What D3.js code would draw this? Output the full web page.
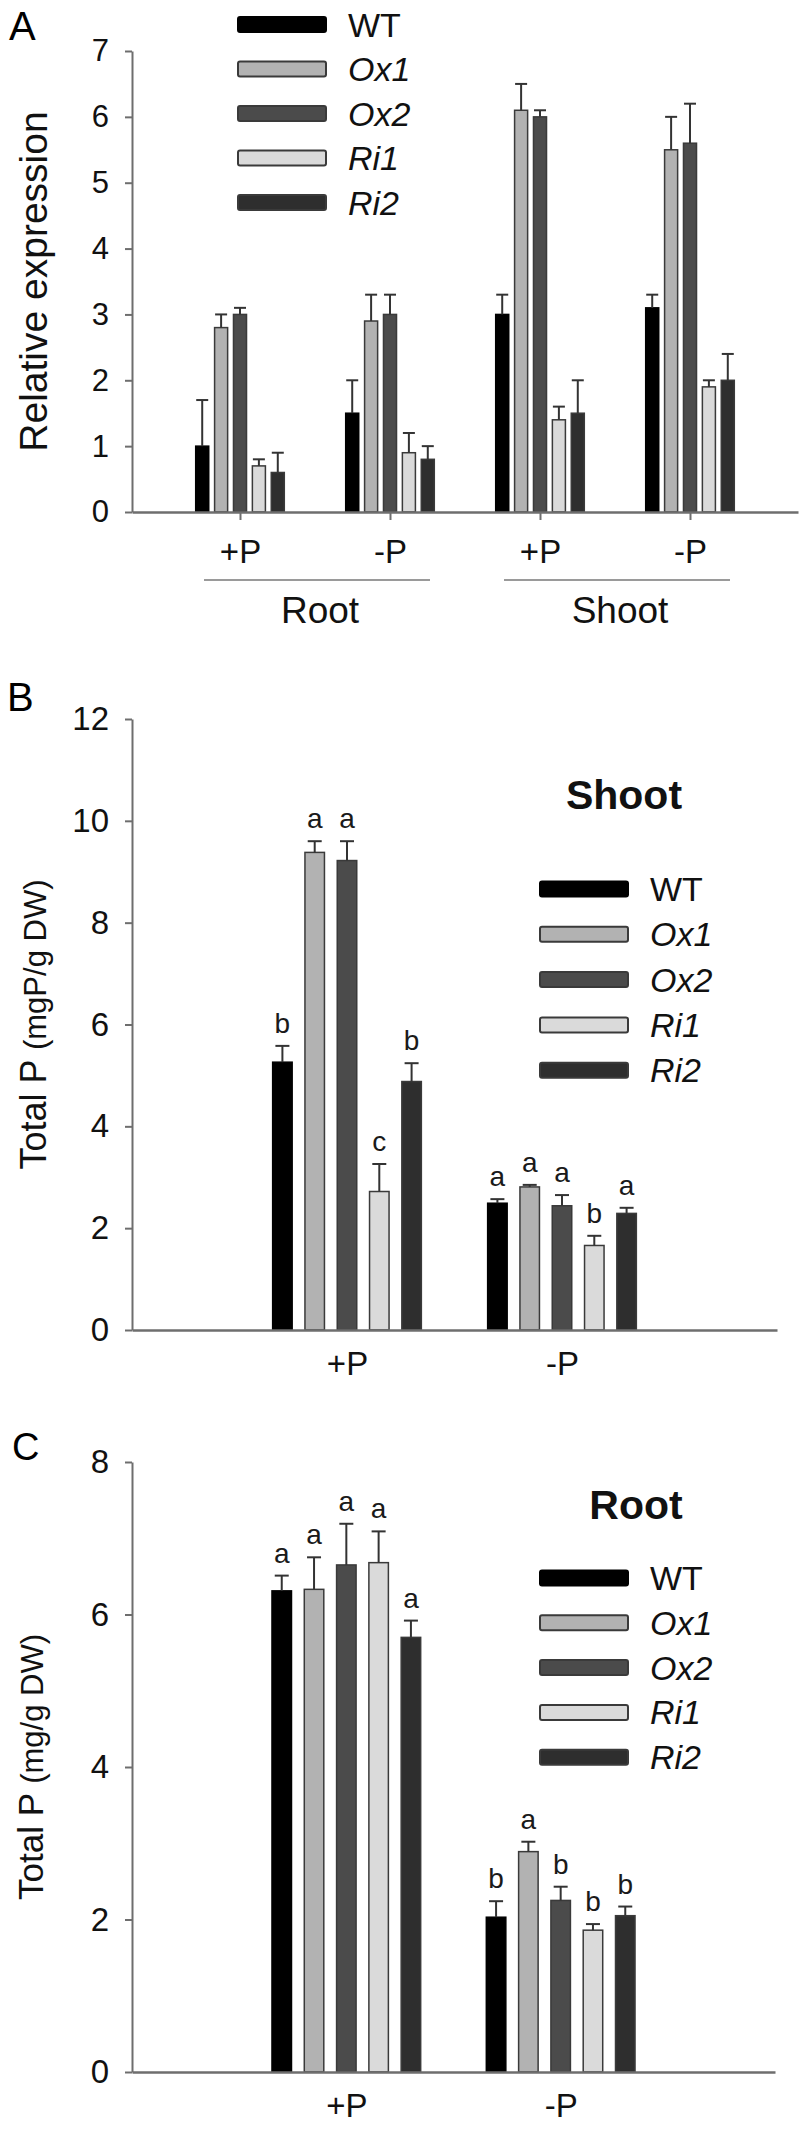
<!DOCTYPE html>
<html>
<head>
<meta charset="utf-8">
<script src="https://cdn.jsdelivr.net/npm/d3@7"></script>
<style>
  html, body { margin: 0; padding: 0; background: #fff; }
  svg { display: block; font-family: "Liberation Sans", Arial, sans-serif; }
</style>
</head>
<body>
<svg id="chart" width="800" height="2132"></svg>
<script>
// ---------- DATA ----------
const series = ["WT", "Ox1", "Ox2", "Ri1", "Ri2"];
const seriesItalic = [false, true, true, true, true];
const seriesFill = ["#000000", "#b2b2b2", "#4b4b4b", "#dadada", "#2e2e2e"];

// Panel A: relative expression
const groupKeysA = ["Root+P", "Root-P", "Shoot+P", "Shoot-P"];
const groupLabelsA = ["+P", "-P", "+P", "-P"];
const tissuesA = ["Root", "Shoot"];
const ticksA = [0, 1, 2, 3, 4, 5, 6, 7];
const aWT  = [1.0, 1.5, 3.0, 3.1];
const aOx1 = [2.8, 2.9, 6.1, 5.5];
const aOx2 = [3.0, 3.0, 6.0, 5.6];
const aRi1 = [0.7, 0.9, 1.4, 1.9];
const aRi2 = [0.6, 0.8, 1.5, 2.0];
const aWTerr  = [0.7, 0.5, 0.3, 0.2];
const aOx1err = [0.2, 0.4, 0.4, 0.5];
const aOx2err = [0.1, 0.3, 0.1, 0.6];
const aRi1err = [0.1, 0.3, 0.2, 0.1];
const aRi2err = [0.3, 0.2, 0.5, 0.4];

// Panel B: total P, shoot
const groupsBC = ["+P", "-P"];
const ticksB = [0, 2, 4, 6, 8, 10, 12];
const bWT  = [5.26, 2.49];
const bOx1 = [9.38, 2.81];
const bOx2 = [9.22, 2.44];
const bRi1 = [2.72, 1.66];
const bRi2 = [4.88, 2.29];
const bWTerr  = [0.32, 0.08];
const bOx1err = [0.22, 0.04];
const bOx2err = [0.38, 0.21];
const bRi1err = [0.54, 0.19];
const bRi2err = [0.36, 0.11];
const bWTsig  = ["b", "a"];
const bOx1sig = ["a", "a"];
const bOx2sig = ["a", "a"];
const bRi1sig = ["c", "b"];
const bRi2sig = ["b", "a"];

// Panel C: total P, root
const ticksC = [0, 2, 4, 6, 8];
const cWT  = [6.31, 2.03];
const cOx1 = [6.33, 2.89];
const cOx2 = [6.65, 2.25];
const cRi1 = [6.68, 1.86];
const cRi2 = [5.70, 2.05];
const cWTerr  = [0.20, 0.21];
const cOx1err = [0.42, 0.13];
const cOx2err = [0.54, 0.18];
const cRi1err = [0.41, 0.08];
const cRi2err = [0.22, 0.12];
const cWTsig  = ["a", "b"];
const cOx1sig = ["a", "a"];
const cOx2sig = ["a", "b"];
const cRi1sig = ["a", "b"];
const cRi2sig = ["a", "b"];

// ---------- DRAWING ----------
const svg = d3.select("#chart");
const AXIS = "#6e6e6e";

function buildRows(groupKeys, vals, errs, sigs) {
  const rows = [];
  groupKeys.forEach((g, gi) => {
    series.forEach((s, si) => {
      rows.push({ g, s, si, v: vals[si][gi], e: errs[si][gi], sig: sigs ? sigs[si][gi] : null });
    });
  });
  return rows;
}

function drawPanel(o) {
  const g = svg.append("g");
  const y = d3.scaleLinear().domain(o.yDomain).range([o.bottom, o.top]);
  const x0 = d3.scalePoint().domain(o.groupKeys).range([o.left, o.right]).padding(o.groupPad);
  const x1 = d3.scaleBand().domain(series).range([-o.inner / 2, o.inner / 2]).paddingInner(o.barPad).paddingOuter(0);

  // y axis
  const ya = g.append("g").attr("transform", `translate(${o.left},0)`)
    .call(d3.axisLeft(y).tickValues(o.ticks).tickSize(7).tickSizeOuter(0).tickPadding(16).tickFormat(d3.format("d")));
  ya.select(".domain").attr("stroke", AXIS).attr("stroke-width", 2);
  ya.selectAll(".tick line").attr("stroke", AXIS).attr("stroke-width", 2);
  ya.selectAll(".tick text").attr("font-size", o.tickFont).attr("fill", "#111")
    .attr("font-family", "'Liberation Sans', Arial, sans-serif");

  // bars
  const rows = o.rows;
  g.selectAll("rect.bar").data(rows).enter().append("rect")
    .attr("x", d => x0(d.g) + x1(d.s))
    .attr("y", d => y(d.v))
    .attr("width", x1.bandwidth())
    .attr("height", d => y(0) - y(d.v))
    .attr("fill", d => seriesFill[d.si])
    .attr("stroke", d => d.si === 0 ? "#000" : "#3a3a3a")
    .attr("stroke-width", 1.5);

  // error bars
  const cx = d => x0(d.g) + x1(d.s) + x1.bandwidth() / 2;
  g.selectAll("line.err").data(rows).enter().append("line")
    .attr("x1", cx).attr("x2", cx)
    .attr("y1", d => y(d.v)).attr("y2", d => y(d.v + d.e))
    .attr("stroke", "#333").attr("stroke-width", 2);
  g.selectAll("line.cap").data(rows).enter().append("line")
    .attr("x1", d => cx(d) - o.cap / 2).attr("x2", d => cx(d) + o.cap / 2)
    .attr("y1", d => y(d.v + d.e)).attr("y2", d => y(d.v + d.e))
    .attr("stroke", "#333").attr("stroke-width", 2);

  // significance letters
  if (o.sig) {
    g.selectAll("text.sig").data(rows).enter().append("text")
      .attr("x", cx).attr("y", d => y(d.v + d.e) - 13)
      .attr("text-anchor", "middle").attr("font-size", 28).attr("fill", "#1a1a1a")
      .text(d => d.sig);
  }

  // x axis
  const xa = g.append("g").attr("transform", `translate(0,${o.bottom})`)
    .call(d3.axisBottom(x0).tickSize(o.xTick).tickSizeOuter(0).tickPadding(o.xPad)
      .tickFormat((d, i) => o.groupLabels[i]));
  xa.select(".domain").attr("stroke", AXIS).attr("stroke-width", 2.5);
  xa.selectAll(".tick line").attr("stroke", AXIS).attr("stroke-width", 2);
  xa.selectAll(".tick text").attr("font-size", 33).attr("fill", "#111")
    .attr("font-family", "'Liberation Sans', Arial, sans-serif");

  // y title
  const t = g.append("text")
    .attr("transform", `translate(${o.titleX},${(o.top + o.bottom) / 2}) rotate(-90)`)
    .attr("text-anchor", "middle").attr("fill", "#111");
  o.title.forEach(p => t.append("tspan").attr("font-size", p[1]).text(p[0]));

  // panel letter
  g.append("text").attr("x", o.letterX).attr("y", o.letterY)
    .attr("font-size", o.letterSize).attr("fill", "#000").text(o.letter);

  // legend
  const lg = g.append("g");
  series.forEach((s, i) => {
    const cy = o.legY + i * o.legStep;
    lg.append("rect").attr("x", o.legX).attr("y", cy - 7.5).attr("width", 88).attr("height", 15)
      .attr("rx", 2).attr("fill", seriesFill[i]).attr("stroke", i === 0 ? "#000" : "#3a3a3a").attr("stroke-width", 2);
    lg.append("text").attr("x", o.legX + 110).attr("y", cy + 12)
      .attr("font-size", 34).attr("font-style", seriesItalic[i] ? "italic" : "normal")
      .attr("fill", "#111").text(s);
  });

  // tissue title
  if (o.heading) {
    g.append("text").attr("x", o.headX).attr("y", o.headY).attr("text-anchor", "middle")
      .attr("font-size", 41).attr("font-weight", "bold").attr("fill", "#111").text(o.heading);
  }
  return { x0, y, g };
}

// Panel A
const pA = drawPanel({
  groupKeys: groupKeysA, groupLabels: groupLabelsA, groupPad: 0.72,
  left: 132, right: 798, top: 51, bottom: 512, yDomain: [0, 7], ticks: ticksA, tickFont: 31,
  inner: 88.6, barPad: 0.31, cap: 12, xTick: 8, xPad: 20,
  rows: buildRows(groupKeysA, [aWT, aOx1, aOx2, aRi1, aRi2], [aWTerr, aOx1err, aOx2err, aRi1err, aRi2err], null),
  sig: false,
  title: [["Relative expression", 39]], titleX: 47,
  letter: "A", letterX: 9, letterY: 40, letterSize: 40,
  legX: 238, legY: 24.5, legStep: 44.5
});
// tissue underlines + labels for A
[[0, 1], [2, 3]].forEach((pair, i) => {
  const xa = pA.x0(groupKeysA[pair[0]]) - 36, xb = pA.x0(groupKeysA[pair[1]]) + 40;
  pA.g.append("line").attr("x1", xa).attr("x2", xb).attr("y1", 580).attr("y2", 580)
    .attr("stroke", "#9a9a9a").attr("stroke-width", 2);
  pA.g.append("text").attr("x", (xa + xb) / 2 + 3).attr("y", 623).attr("text-anchor", "middle")
    .attr("font-size", 37).attr("fill", "#111").text(tissuesA[i]);
});

// Panel B
drawPanel({
  groupKeys: groupsBC, groupLabels: groupsBC, groupPad: 1,
  left: 132, right: 777, top: 719, bottom: 1330, yDomain: [0, 12], ticks: ticksB, tickFont: 33,
  inner: 148.7, barPad: 0.396, cap: 14, xTick: 0, xPad: 22,
  rows: buildRows(groupsBC, [bWT, bOx1, bOx2, bRi1, bRi2], [bWTerr, bOx1err, bOx2err, bRi1err, bRi2err],
    [bWTsig, bOx1sig, bOx2sig, bRi1sig, bRi2sig]),
  sig: true,
  title: [["Total P ", 36], ["(mgP/g DW)", 31]], titleX: 46,
  letter: "B", letterX: 7, letterY: 711, letterSize: 40,
  legX: 540, legY: 889, legStep: 45.3,
  heading: "Shoot", headX: 624, headY: 809
});

// Panel C
drawPanel({
  groupKeys: groupsBC, groupLabels: groupsBC, groupPad: 1,
  left: 132, right: 775, top: 1462, bottom: 2072, yDomain: [0, 8], ticks: ticksC, tickFont: 33,
  inner: 148.7, barPad: 0.396, cap: 14, xTick: 0, xPad: 22,
  rows: buildRows(groupsBC, [cWT, cOx1, cOx2, cRi1, cRi2], [cWTerr, cOx1err, cOx2err, cRi1err, cRi2err],
    [cWTsig, cOx1sig, cOx2sig, cRi1sig, cRi2sig]),
  sig: true,
  title: [["Total P ", 35], ["(mg/g DW)", 31]], titleX: 43,
  letter: "C", letterX: 12, letterY: 1460, letterSize: 38,
  legX: 540, legY: 1578, legStep: 44.8,
  heading: "Root", headX: 636, headY: 1519
});
</script>
</body>
</html>
